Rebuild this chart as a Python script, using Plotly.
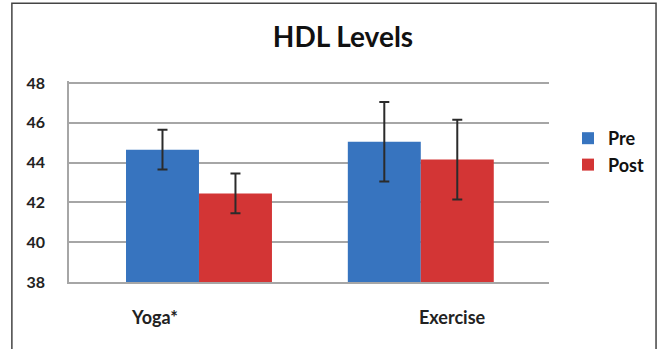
import plotly.graph_objects as go

categories = ["Yoga*", "Exercise"]
pre_values = [44.65, 45.05]
post_values = [42.45, 44.15]
pre_errors = [1.0, 2.0]
post_errors = [1.0, 2.0]
y_ticks = [38, 40, 42, 44, 46, 48]

x_pos = [0, 1]
label_pos = [-0.2, 1.144]

font_family = "Lato, 'Open Sans', sans-serif"

fig = go.Figure()
fig.add_trace(go.Bar(
    x=x_pos, y=pre_values, name="<b>Pre</b>",
    marker=dict(color="#3774bf", line=dict(width=0)),
    error_y=dict(type="data", array=pre_errors, color="#2b2b2b", thickness=2, width=5),
))
fig.add_trace(go.Bar(
    x=x_pos, y=post_values, name="<b>Post</b>",
    marker=dict(color="#d33535", line=dict(width=0)),
    error_y=dict(type="data", array=post_errors, color="#2b2b2b", thickness=2, width=5),
))

for xp, lab in zip(label_pos, categories):
    fig.add_annotation(x=xp, y=0, xref="x", yref="paper", yshift=-35,
                       text=f"<b>{lab}</b>", showarrow=False,
                       font=dict(family=font_family, size=18, color="#222"),
                       xanchor="center", yanchor="middle")

fig.add_shape(type="rect", xref="paper", yref="paper",
              x0=-0.119, x1=1.223, y0=-0.5, y1=1.387,
              line=dict(color="#444", width=1.5), fillcolor="rgba(0,0,0,0)", layer="below")

fig.update_layout(
    width=663, height=349,
    margin=dict(l=69, r=114, t=81, b=67, autoexpand=False),
    paper_bgcolor="white", plot_bgcolor="white",
    barmode="group", bargap=0.342, bargroupgap=0,
    title=dict(text="<b>HDL Levels</b>", x=343 / 663, xanchor="center",
               y=1 - 37 / 349, yanchor="middle",
               font=dict(family=font_family, size=28, color="#111")),
    showlegend=True,
    legend=dict(x=(568 - 69) / 480, y=(282 - 120) / 201, xanchor="left", yanchor="top",
                font=dict(family=font_family, size=18, color="#111"),
                itemwidth=30, tracegroupgap=0, bgcolor="rgba(0,0,0,0)",
                traceorder="normal"),
    xaxis=dict(range=[-0.586, 1.578], showticklabels=False, showgrid=False,
               zeroline=False, showline=True, linecolor="#a6a6a6", linewidth=1.5,
               ticks=""),
    yaxis=dict(range=[38, 48.1], tickvals=y_ticks,
               ticktext=[f"<b>{v}</b>" for v in y_ticks],
               showgrid=True, gridcolor="#a6a6a6",
               gridwidth=1.5, zeroline=False, showline=True, linecolor="#a6a6a6",
               linewidth=1.5, ticks="", ticklabelstandoff=19,
               tickfont=dict(family=font_family, size=16, color="#222")),
)

fig.write_html("out.html", post_script="document.body.style.margin='0';",
               config={"displayModeBar": False})
